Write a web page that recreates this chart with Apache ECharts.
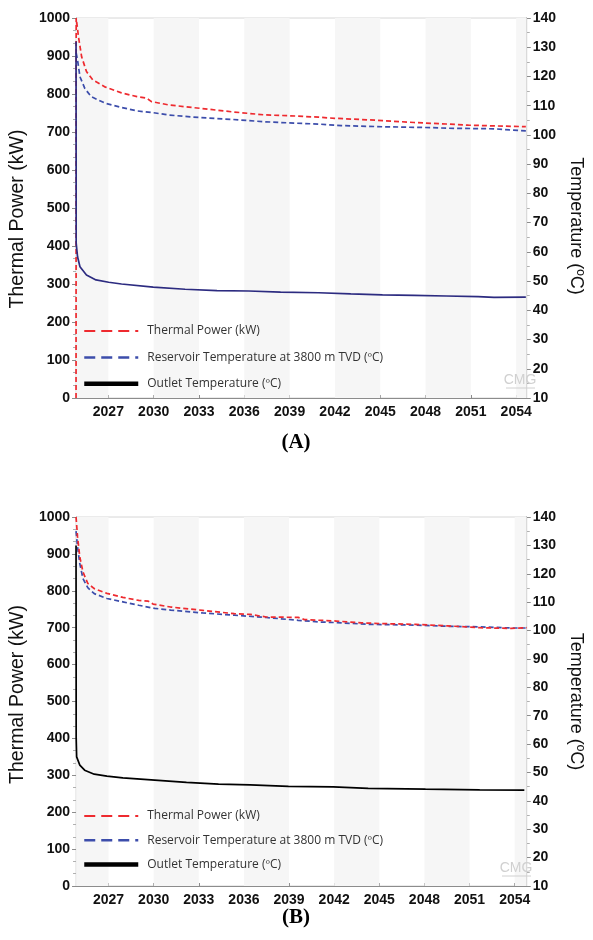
<!DOCTYPE html>
<html>
<head>
<meta charset="utf-8">
<script src="https://cdn.jsdelivr.net/npm/echarts@6/dist/echarts.min.js"></script>
<style>
  html, body { margin: 0; padding: 0; background: #ffffff; }
  #chart { width: 593px; height: 940px; }
</style>
</head>
<body>
<div id="chart"></div>
<script>
// x ticks shared by both panels
const yearTicks = [2027, 2030, 2033, 2036, 2039, 2042, 2045, 2048, 2051, 2054];

// ---- panel A ----
const bandsA = [[2024.86, 2027], [2030, 2033], [2036, 2039], [2042, 2045], [2048, 2051], [2054, 2054.7]];
const powerYearsA = [2024.86, 2024.87, 2025.02, 2025.23, 2025.55, 2025.97, 2026.81, 2027.87, 2028.90, 2029.53, 2029.85, 2031.03, 2033.14, 2035.22, 2037.35, 2039.46, 2040.92, 2041.99, 2043.68, 2045.15, 2047.24, 2049.37, 2050.84, 2052.53, 2054.64];
const powerA = [0, 1000, 951, 898, 859, 837, 818, 803, 793, 789, 780, 771, 762, 753, 745, 742, 739, 736, 733, 730, 725, 721, 718, 716, 714];
const resYearsA = [2024.87, 2024.96, 2025.12, 2025.44, 2025.86, 2026.81, 2027.87, 2028.90, 2029.97, 2031.03, 2033.14, 2035.22, 2037.35, 2039.46, 2040.92, 2042.41, 2045.15, 2048.32, 2049.37, 2052.53, 2053.57, 2054.64];
const resTempA = [128, 125.6, 119.9, 115.9, 113.1, 110.8, 109.4, 108.2, 107.6, 106.8, 105.9, 105.3, 104.5, 104.0, 103.7, 103.2, 102.8, 102.5, 102.3, 102.1, 101.7, 101.4];
const outYearsA = [2024.86, 2024.87, 2024.96, 2025.12, 2025.55, 2026.18, 2027.02, 2027.87, 2029.97, 2032.08, 2034.19, 2036.30, 2038.40, 2040.92, 2043.05, 2045.15, 2047.24, 2049.37, 2051.48, 2052.53, 2054.64];
const outTempA = [132, 62.9, 58.3, 54.9, 52.1, 50.4, 49.6, 49.0, 47.9, 47.2, 46.7, 46.6, 46.2, 46.0, 45.6, 45.3, 45.1, 44.9, 44.7, 44.4, 44.5];

// ---- panel B ----
const bandsB = [[2024.84, 2027], [2030, 2033], [2036, 2039], [2042, 2045], [2048, 2051], [2054, 2054.8]];
const powerYearsB = [2024.84, 2024.94, 2025.09, 2025.30, 2025.62, 2026.05, 2026.89, 2027.95, 2029.01, 2029.64, 2029.96, 2031.13, 2033.25, 2035.36, 2036.42, 2037.48, 2039.60, 2040.02, 2042.14, 2043.84, 2045.32, 2047.43, 2049.55, 2051.67, 2053.79, 2054.8];
const powerB = [1000, 946, 892, 851, 820, 806, 793, 782, 774, 772, 764, 756, 747, 738, 736, 729, 728, 722, 718, 713, 711, 709, 705, 700, 698, 700];
const resYearsB = [2024.84, 2024.94, 2025.09, 2025.30, 2025.62, 2026.05, 2026.89, 2027.95, 2029.01, 2030.07, 2031.13, 2033.25, 2035.36, 2037.48, 2039.60, 2041.08, 2042.14, 2044.26, 2047.43, 2049.55, 2051.67, 2053.79, 2054.8];
const resTempB = [135, 129.4, 123.6, 118.3, 115.1, 113.0, 111.3, 110.1, 108.9, 107.8, 107.2, 106.2, 105.4, 104.6, 103.6, 103.0, 102.8, 102.2, 101.9, 101.5, 101.3, 100.9, 100.9];
const outYearsB = [2024.84, 2024.85, 2024.88, 2025.09, 2025.41, 2026.05, 2026.89, 2027.95, 2030.07, 2032.18, 2034.31, 2036.42, 2038.96, 2041.93, 2044.26, 2048.07, 2051.67, 2054.64];
const outTempB = [130, 62.0, 55.5, 52.6, 50.8, 49.4, 48.7, 48.1, 47.3, 46.5, 45.9, 45.6, 45.1, 44.9, 44.4, 44.1, 43.9, 43.8];

const names = ["Thermal Power (kW)", "Reservoir Temperature at 3800 m TVD (ºC)", "Outlet Temperature (ºC)"];

const RED = "#ee2a2f";
const BLUE = "#3c4dab";
const AXIS = "#8c8c8c";

function zip(xs, ys) {
  return xs.map((x, i) => [x, ys[i]]);
}

function xAxis(gridIndex, min, max) {
  return {
    type: "value",
    gridIndex,
    min,
    max,
    axisLine: { lineStyle: { color: AXIS } },
    axisTick: { customValues: yearTicks, inside: true, length: 3, lineStyle: { color: AXIS } },
    axisLabel: {
      customValues: yearTicks,
      formatter: (v) => String(v),
      margin: 7,
      color: "#111",
      fontSize: 14,
      fontWeight: "bold",
      fontFamily: "Liberation Sans",
    },
    splitLine: { show: false },
  };
}

function powerAxis(gridIndex, shift) {
  return {
    type: "value",
    gridIndex,
    position: "left",
    min: 0,
    max: 1000,
    interval: 100,
    name: names[0],
    nameLocation: "middle",
    nameGap: 42,
    nameTextStyle: { fontSize: 19.5, color: "#111", fontFamily: "Liberation Sans", padding: shift },
    axisLine: { show: true, lineStyle: { color: AXIS } },
    axisTick: { length: 4, lineStyle: { color: AXIS } },
    minorTick: { show: true, splitNumber: 3, length: 3, lineStyle: { color: "#b0b0b0" } },
    axisLabel: { formatter: (v) => String(v), margin: 6, color: "#111", fontSize: 14, fontWeight: "bold", fontFamily: "Liberation Sans" },
    splitLine: { show: false },
  };
}

function tempAxis(gridIndex, shift) {
  return {
    type: "value",
    gridIndex,
    position: "right",
    min: 10,
    max: 140,
    interval: 10,
    name: "Temperature (ºC)",
    nameLocation: "middle",
    nameRotate: -90,
    nameGap: 26,
    nameTextStyle: { fontSize: 18, color: "#111", fontFamily: "Liberation Sans", padding: shift },
    axisLine: { show: true, lineStyle: { color: AXIS } },
    axisTick: { length: 4, lineStyle: { color: AXIS } },
    minorTick: { show: true, splitNumber: 2, length: 3, lineStyle: { color: "#b0b0b0" } },
    axisLabel: { margin: 6, color: "#111", fontSize: 14, fontWeight: "bold", fontFamily: "Liberation Sans" },
    splitLine: { show: false },
  };
}

function bandSeries(axisIndex, bands) {
  return {
    type: "line",
    xAxisIndex: axisIndex,
    yAxisIndex: axisIndex * 2,
    data: [],
    silent: true,
    z: 1,
    markArea: {
      silent: true,
      itemStyle: { color: "#f6f6f6" },
      data: bands.map((b) => [{ xAxis: b[0] }, { xAxis: b[1] }]),
    },
  };
}

function dashLine(name, color, axisIndex, yIndex, data) {
  return {
    name,
    type: "line",
    xAxisIndex: axisIndex,
    yAxisIndex: yIndex,
    symbol: "none",
    z: 3,
    lineStyle: { color, width: 1.7, type: [5, 3] },
    itemStyle: { color },
    data,
  };
}

function solidLine(name, color, axisIndex, yIndex, data) {
  return {
    name,
    type: "line",
    xAxisIndex: axisIndex,
    yAxisIndex: yIndex,
    symbol: "none",
    z: 4,
    lineStyle: { color, width: 1.7 },
    itemStyle: { color },
    data,
  };
}

function legend(top, gap) {
  const hidden = { opacity: 0 };
  return {
    orient: "vertical",
    left: 82,
    top,
    padding: 0,
    itemWidth: 54,
    itemHeight: 14,
    itemGap: gap,
    selectedMode: false,
    textStyle: { color: "#333", fontSize: 12, fontFamily: "Open Sans", padding: [0, 0, 0, 4] },
    data: [
      { name: names[0], itemStyle: hidden, lineStyle: { width: 2, type: [11, 6] } },
      { name: names[1], itemStyle: hidden, lineStyle: { width: 2.5, type: [11, 6] } },
      { name: names[2], itemStyle: hidden, lineStyle: { color: "#000", width: 4.5, type: "solid" } },
    ],
  };
}

function watermark(x, y) {
  return [
    { type: "text", x, y, z: 5, style: { text: "CMG", fill: "#d0d0d0", font: "14px 'Liberation Sans Narrow', 'Liberation Sans'", align: "center", verticalAlign: "middle" } },
    { type: "line", z: 5, shape: { x1: x - 14, y1: y + 8, x2: x + 15, y2: y + 8 }, style: { stroke: "#d0d0d0", lineWidth: 1 } },
  ];
}

const chart = echarts.init(document.getElementById("chart"));
chart.setOption({
  animation: false,
  backgroundColor: "#ffffff",
  grid: [
    { left: 69, right: 52, top: 18, height: 380, show: true, borderColor: "#d6d6d6", borderWidth: 1 },
    { left: 68, right: 54, top: 517, height: 369, show: true, borderColor: "#d6d6d6", borderWidth: 1 },
  ],
  legend: [legend(325, 14.4), legend(810, 12.2)],
  xAxis: [xAxis(0, 2024.86, 2054.7), xAxis(1, 2024.84, 2054.8)],
  yAxis: [powerAxis(0, [0, 22, 0, 0]), tempAxis(0, [0, 0, 0, 36]), powerAxis(1, [0, 0, 0, 14]), tempAxis(1, [0, 0, 0, 0])],
  graphic: [
    { type: "text", x: 296, y: 443, style: { text: "(A)", fill: "#000", font: "bold 21px 'Liberation Serif'", align: "center", verticalAlign: "middle" } },
    { type: "text", x: 296, y: 918, style: { text: "(B)", fill: "#000", font: "bold 21px 'Liberation Serif'", align: "center", verticalAlign: "middle" } },
    ...watermark(520, 380),
    ...watermark(516, 868),
  ],
  series: [
    bandSeries(0, bandsA),
    bandSeries(1, bandsB),
    dashLine(names[0], RED, 0, 0, zip(powerYearsA, powerA)),
    dashLine(names[1], BLUE, 0, 1, zip(resYearsA, resTempA)),
    solidLine(names[2], "#2c2b80", 0, 1, zip(outYearsA, outTempA)),
    dashLine(names[1], BLUE, 1, 3, zip(resYearsB, resTempB)),
    dashLine(names[0], RED, 1, 2, zip(powerYearsB, powerB)),
    solidLine(names[2], "#000000", 1, 3, zip(outYearsB, outTempB)),
  ],
});
</script>
</body>
</html>
